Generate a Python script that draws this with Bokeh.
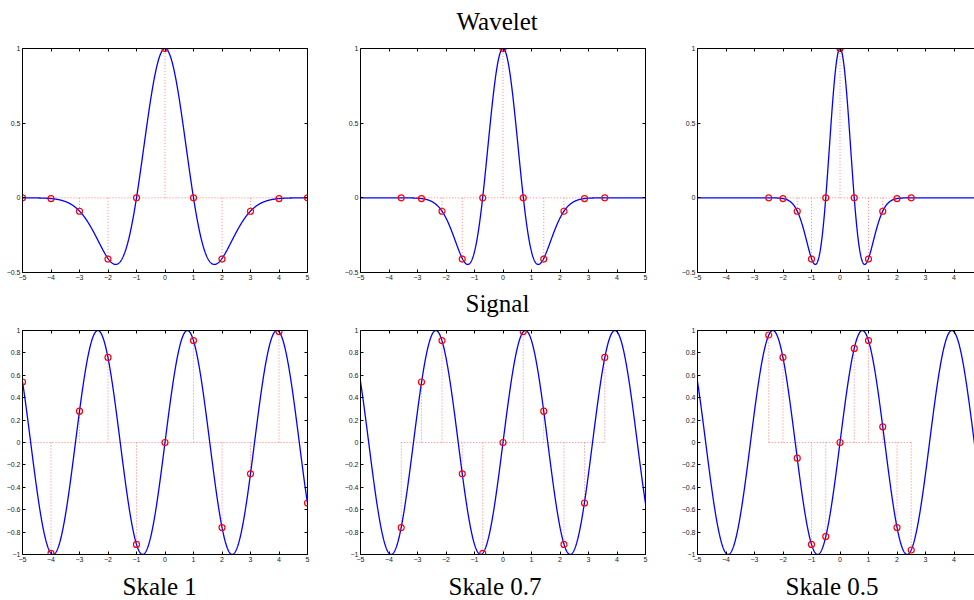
import numpy as np
from bokeh.plotting import figure
from bokeh.models import LinearAxis, FixedTicker, Title
from bokeh.layouts import row, column
from bokeh.embed import file_html
from bokeh.resources import INLINE

# ---------------- data ----------------
scale_labels = ["Skale 1", "Skale 0.7", "Skale 0.5"]
dilations = [1.0, 0.714, 0.5]

sample_x = [
    [-5, -4, -3, -2, -1, 0, 1, 2, 3, 4, 5],
    [-3.57, -2.86, -2.14, -1.43, -0.71, 0, 0.71, 1.43, 2.14, 2.86, 3.57],
    [-2.5, -2, -1.5, -1, -0.5, 0, 0.5, 1, 1.5, 2, 2.5],
]
wavelet_samples = [0.0, -0.005, -0.09, -0.41, 0.0, 1.0, 0.0, -0.41, -0.09, -0.005, 0.0]
signal_samples = [
    [0.54, -0.99, 0.28, 0.76, -0.91, 0.0, 0.91, -0.76, -0.28, 0.99, -0.54],
    [-0.76, 0.54, 0.91, -0.28, -0.99, 0.0, 0.99, 0.28, -0.91, -0.54, 0.76],
    [0.96, 0.76, -0.14, -0.91, -0.84, 0.0, 0.84, 0.91, 0.14, -0.76, -0.96],
]

x_ticks = [-5, -4, -3, -2, -1, 0, 1, 2, 3, 4, 5]
x_tick_labels = ["\u22125", "\u22124", "\u22123", "\u22122", "\u22121", "0", "1", "2", "3", "4", "5"]
wave_y_ticks = [-0.5, 0, 0.5, 1]
wave_y_labels = ["\u22120.5", "0", "0.5", "1"]
sig_y_ticks = [-1, -0.8, -0.6, -0.4, -0.2, 0, 0.2, 0.4, 0.6, 0.8, 1]
sig_y_labels = ["\u22121", "\u22120.8", "\u22120.6", "\u22120.4", "\u22120.2", "0",
                "0.2", "0.4", "0.6", "0.8", "1"]

# continuous curves: Mexican-hat wavelet and the sine signal sin(2t)
t = np.linspace(-5, 5, 1201)


def mexican_hat(u):
    return (1 - u ** 2) * np.exp(-u ** 2 / 2)


signal_curve = np.sin(2 * t)

# ---------------- layout ----------------
frame_w = [285, 285, 277]
border_l = [22, 33, 32]
border_r = [20, 20, 0]
x_end = [5, 5, -5 + 277 / 28.5]
FH = 224
TICK_FONT = "Liberation Sans"
SERIF = "Liberation Serif"
STEM = "#ff7f7f"
title_offsets_top = {"Wavelet": 96, "Signal": 105}
title_offsets_bottom = [100, 88, 88]


def style_axis(ax, ticks, labels, show, standoff=2):
    ax.ticker = FixedTicker(ticks=ticks)
    ax.major_label_overrides = {tk: lb for tk, lb in zip(ticks, labels)}
    ax.major_tick_in = 3
    ax.major_tick_out = 0
    ax.minor_tick_line_color = None
    ax.axis_line_color = "black"
    ax.axis_line_width = 1
    ax.major_tick_line_color = "black"
    ax.major_label_text_font = TICK_FONT
    ax.major_label_text_font_size = "7px"
    ax.major_label_standoff = standoff
    ax.major_label_text_color = "#222222" if show else None


def big_title(text, offset):
    return Title(text=text, align="left", offset=offset, standoff=0,
                 text_font=SERIF, text_font_size="25px",
                 text_font_style="normal", text_color="black")


def gap_axis(size):
    # invisible axis used only to leave a gap between frame and heading
    return LinearAxis(ticker=FixedTicker(ticks=[-5]), axis_line_color=None,
                      major_tick_line_color="white", major_tick_in=0,
                      major_tick_out=size, minor_tick_line_color=None,
                      major_label_text_color=None, major_label_standoff=0)


def make_panel(i, top_row):
    if top_row:
        yr = (-0.5, 1)
        yt, yl = wave_y_ticks, wave_y_labels
        bt, bb = 48, 12
        ys = wavelet_samples
        yc = mexican_hat(t / dilations[i])
    else:
        yr = (-1, 1)
        yt, yl = sig_y_ticks, sig_y_labels
        bt, bb = 46, 46
        ys = signal_samples[i]
        yc = signal_curve
    xs = sample_x[i]
    p = figure(frame_width=frame_w[i], frame_height=FH,
               x_range=(-5, x_end[i]), y_range=yr,
               min_border_left=border_l[i], min_border_right=border_r[i],
               min_border_top=bt, min_border_bottom=bb,
               toolbar_location=None, output_backend="svg", title=None)
    p.grid.visible = False
    p.outline_line_color = None
    p.background_fill_color = "white"
    p.border_fill_color = "white"

    style_axis(p.xaxis[0], x_ticks, x_tick_labels, True)
    style_axis(p.yaxis[0], yt, yl, True)

    ax_top = LinearAxis()
    style_axis(ax_top, x_ticks, x_tick_labels, False)
    p.add_layout(ax_top, "above")
    if border_r[i] > 0:
        ax_r = LinearAxis()
        style_axis(ax_r, yt, yl, False)
        p.add_layout(ax_r, "right")

    # heading above the middle column
    if i == 1:
        name = "Wavelet" if top_row else "Signal"
        p.add_layout(gap_axis(14), "above")
        p.add_layout(big_title(name, title_offsets_top[name]), "above")

    # stems
    p.segment(x0=xs, y0=[0] * len(xs), x1=xs, y1=ys,
              line_color=STEM, line_dash="1 2", line_width=1)
    p.segment(x0=[min(xs)], y0=[0], x1=[max(xs)], y1=[0],
              line_color=STEM, line_dash="1 2", line_width=1)
    # curve
    p.line(t, yc, line_color="#0000ff", line_width=1.3)
    # sample markers
    p.scatter(xs, ys, marker="circle", size=6, fill_color=None,
              line_color="#ff0000", line_width=1.2)

    if not top_row:
        spacer = LinearAxis(ticker=FixedTicker(ticks=[0]), axis_line_color=None,
                            major_tick_line_color=None, minor_tick_line_color=None,
                            major_label_text_color=None,
                            major_label_text_font_size="3.5px", major_label_standoff=2)
        p.add_layout(spacer, "below")
        p.add_layout(big_title(scale_labels[i], title_offsets_bottom[i]), "below")
    return p


top = [make_panel(i, True) for i in range(3)]
bottom = [make_panel(i, False) for i in range(3)]
p = column(row(*top, spacing=0), row(*bottom, spacing=0), spacing=0)

open("out.html", "w").write(file_html(p, INLINE))
